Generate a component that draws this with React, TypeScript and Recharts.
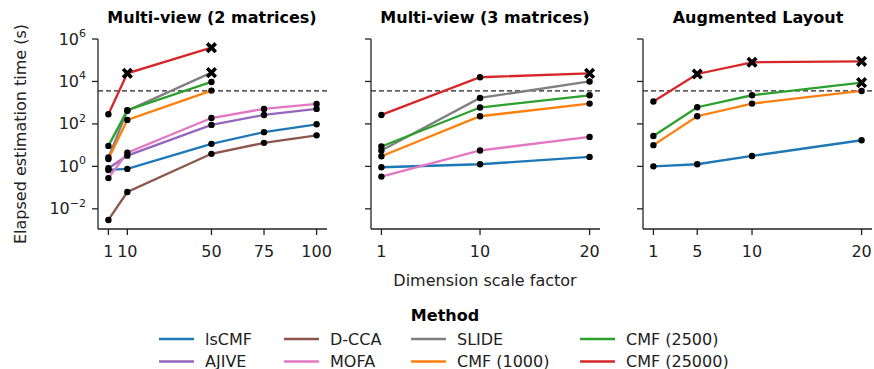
import React from 'react';
import { LineChart, Line, XAxis, YAxis, ReferenceLine } from 'recharts';

const COLORS: Record<string, string> = {
  lsCMF: '#1f77b4',
  AJIVE: '#9467bd',
  'D-CCA': '#8c564b',
  MOFA: '#e377c2',
  SLIDE: '#7f7f7f',
  'CMF (1000)': '#ff7f0e',
  'CMF (2500)': '#2ca02c',
  'CMF (25000)': '#d62728',
};

// legend is filled column by column, 2 rows
const legendOrder = ['lsCMF', 'AJIVE', 'D-CCA', 'MOFA', 'SLIDE', 'CMF (1000)', 'CMF (2500)', 'CMF (25000)'];

const hourLimit = 3600;
const yTicks = [1e-2, 1, 1e2, 1e4, 1e6];

// Multi-view (2 matrices)
const mv2Scale = [1, 10, 50, 75, 100];
const mv2Times: Record<string, (number | null)[]> = {
  lsCMF: [0.68, 0.76, 11.5, 41, 96],
  AJIVE: [0.82, 3.2, 90, 265, 510],
  'D-CCA': [0.003, 0.062, 3.9, 12.8, 29],
  MOFA: [0.28, 4.4, 190, 510, 870],
  SLIDE: [2.6, 420, 26000, null, null],
  'CMF (1000)': [2.2, 155, 3700, null, null],
  'CMF (2500)': [9.2, 440, 9500, null, null],
  'CMF (25000)': [285, 24200, 390000, null, null],
};
const mv2TimedOut: Record<string, number[]> = { SLIDE: [50], 'CMF (25000)': [10, 50] };

// Multi-view (3 matrices)
const mv3Scale = [1, 10, 20];
const mv3Times: Record<string, (number | null)[]> = {
  lsCMF: [0.91, 1.26, 2.8],
  MOFA: [0.33, 5.6, 24.5],
  SLIDE: [5.6, 1670, 10000],
  'CMF (1000)': [3.0, 230, 905],
  'CMF (2500)': [8.6, 590, 2230],
  'CMF (25000)': [265, 15800, 24000],
};
const mv3TimedOut: Record<string, number[]> = { 'CMF (25000)': [20] };

// Augmented layout
const augScale = [1, 5, 10, 20];
const augTimes: Record<string, (number | null)[]> = {
  lsCMF: [1.0, 1.26, 3.1, 17],
  'CMF (1000)': [10, 230, 905, 3570],
  'CMF (2500)': [27, 610, 2240, 8800],
  'CMF (25000)': [1130, 22500, 80000, 89000],
};
const augTimedOut: Record<string, number[]> = { 'CMF (2500)': [20], 'CMF (25000)': [5, 10, 20] };

const FONT = 'DejaVu Sans';
const FS = 16;
const INK = '#222';
const TOP = 39;
const BOTTOM = 229;
const H = 300;

const YTick = (props: any) => {
  const { x, y, payload } = props;
  const exp = Math.round(Math.log10(payload.value));
  return (
    <text x={x} y={y} dy={5.5} textAnchor="end" fontFamily={FONT} fontSize={FS} fill={INK}>
      <tspan>10</tspan>
      <tspan dy={-7.5} fontSize={11}>{exp < 0 ? '\u2212' + Math.abs(exp) : exp}</tspan>
    </text>
  );
};

const NoTick = () => <g />;

const xMarker = (cx: number, cy: number, key: string) => (
  <g key={key}>
    <line x1={cx - 4.3} y1={cy - 4.3} x2={cx + 4.3} y2={cy + 4.3} stroke="#000" strokeWidth={3.6} />
    <line x1={cx - 4.3} y1={cy + 4.3} x2={cx + 4.3} y2={cy - 4.3} stroke="#000" strokeWidth={3.6} />
  </g>
);

type PanelProps = {
  scale: number[];
  times: Record<string, (number | null)[]>;
  timedOut: Record<string, number[]>;
  left: number;
  right: number;
  showYLabels: boolean;
};

const Panel = ({ scale, times, timedOut, left, right, showYLabels }: PanelProps) => {
  const methods = Object.keys(times);
  const rows = scale.map((x, i) => {
    const r: any = { x };
    methods.forEach((m) => (r[m] = times[m][i]));
    return r;
  });
  const pad = (scale[scale.length - 1] - scale[0]) * 0.05;
  const yw = 60;
  return (
    <LineChart
      width={874}
      height={H}
      data={rows}
      margin={{ top: TOP, right: 874 - right, bottom: 0, left: left - yw }}
      style={{ position: 'absolute', left: 0, top: 0 }}
    >
      <XAxis
        dataKey="x"
        type="number"
        domain={[scale[0] - pad, scale[scale.length - 1] + pad]}
        ticks={scale}
        interval={0}
        allowDataOverflow
        height={H - BOTTOM}
        tickSize={6}
        tickMargin={11}
        axisLine={{ stroke: INK, strokeWidth: 1.3 }}
        tickLine={{ stroke: INK, strokeWidth: 1.3 }}
        tick={{ fontFamily: FONT, fontSize: FS, fill: INK }}
      />
      <YAxis
        scale="log"
        domain={[10 ** -2.95, 1e6]}
        allowDataOverflow
        ticks={yTicks}
        interval={0}
        width={yw}
        tickSize={6}
        tickMargin={6}
        axisLine={{ stroke: INK, strokeWidth: 1.3 }}
        tickLine={{ stroke: INK, strokeWidth: 1.3 }}
        tick={showYLabels ? YTick : NoTick}
      />
      <ReferenceLine y={hourLimit} stroke={INK} strokeWidth={1.3} strokeDasharray="5 3" />
      {methods.map((m) => (
        <Line
          key={m}
          dataKey={m}
          stroke={COLORS[m]}
          strokeWidth={2.3}
          dot={false}
          activeDot={false}
          isAnimationActive={false}
        />
      ))}
      {methods.map((m) => (
        <Line
          key={m + '-pts'}
          dataKey={m}
          stroke="none"
          activeDot={false}
          isAnimationActive={false}
          dot={(p: any) => {
            const k = `${m}-${p.index}`;
            if (p.cx == null || p.cy == null || p.value == null) return <g key={k} />;
            if ((timedOut[m] || []).includes(p.payload.x)) return xMarker(p.cx, p.cy, k);
            return <circle key={k} cx={p.cx} cy={p.cy} r={3.2} fill="#000" />;
          }}
        />
      ))}
    </LineChart>
  );
};

const legendCols = [
  { line: 159, text: 205 },
  { line: 284, text: 330 },
  { line: 411, text: 457 },
  { line: 580, text: 626 },
];
const legendRows = [339, 361.5];

export default function App() {
  return (
    <div style={{ position: 'relative', width: 874, height: 369, background: '#fff', overflow: 'hidden' }}>
      <style>{`body{margin:0}`}</style>
      <Panel scale={mv2Scale} times={mv2Times} timedOut={mv2TimedOut} left={98} right={327} showYLabels />
      <Panel scale={mv3Scale} times={mv3Times} timedOut={mv3TimedOut} left={371} right={600} showYLabels={false} />
      <Panel scale={augScale} times={augTimes} timedOut={augTimedOut} left={643} right={872} showYLabels={false} />
      <svg width={874} height={369} style={{ position: 'absolute', left: 0, top: 0, pointerEvents: 'none' }} fontFamily={FONT}>
        <text x={212} y={23} textAnchor="middle" fontSize={FS} fontWeight="bold" fill="#000">Multi-view (2 matrices)</text>
        <text x={485} y={23} textAnchor="middle" fontSize={FS} fontWeight="bold" fill="#000">Multi-view (3 matrices)</text>
        <text x={758} y={23} textAnchor="middle" fontSize={FS} fontWeight="bold" fill="#000">Augmented Layout</text>
        <text transform="translate(26,134) rotate(-90)" textAnchor="middle" fontSize={FS} fill={INK}>Elapsed estimation time (s)</text>
        <text x={485} y={286} textAnchor="middle" fontSize={FS} fill={INK}>Dimension scale factor</text>
        <text x={445} y={321} textAnchor="middle" fontSize={FS} fontWeight="bold" fill="#000">Method</text>
        {legendOrder.map((m, i) => {
          const c = legendCols[Math.floor(i / 2)];
          const y = legendRows[i % 2];
          return (
            <g key={m}>
              <line x1={c.line} x2={c.line + 35} y1={y} y2={y} stroke={COLORS[m]} strokeWidth={2.5} />
              <text x={c.text} y={y + 5.8} fontSize={FS} fill={INK}>{m}</text>
            </g>
          );
        })}
      </svg>
    </div>
  );
}
